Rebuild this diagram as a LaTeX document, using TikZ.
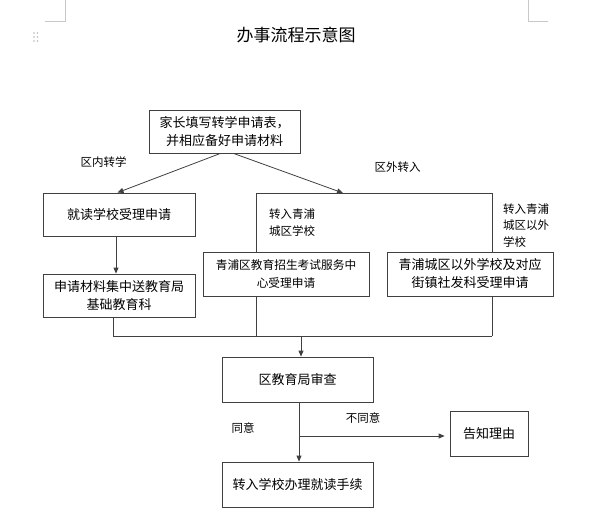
\documentclass[tikz,border=0pt]{standalone}
\usepackage{fontspec}
\setmainfont{Noto Sans CJK SC}
\usetikzlibrary{arrows.meta,calc,backgrounds}
\definecolor{ink}{RGB}{64,64,64}
\definecolor{pagemark}{RGB}{200,200,200}
\tikzset{
  box/.style={draw=ink,fill=white,line width=0.8pt,inner sep=0pt,align=center,font=\fontsize{13}{18}\selectfont},
  small/.style={font=\fontsize{11.7}{18}\selectfont},
  lab/.style={inner sep=0pt,align=left,font=\fontsize{11.5}{17}\selectfont},
  ln/.style={draw=ink,line width=0.8pt},
  arr/.style={-{Triangle[length=6pt,width=5pt]},draw=ink,line width=0.8pt}
}
\begin{document}
\begin{tikzpicture}[x=1pt,y=-1pt]
  \useasboundingbox (0,0) rectangle (601,530);
  % page marks
  \draw[pagemark] (65,0) -- (65,21) -- (45,21);
  \draw[pagemark] (528,0) -- (528,21) -- (548,21);
  \foreach \i in {0,1,2}{
    \foreach \j in {0,1}{
      \fill[gray!55] (34+3.5*\j,33+4*\i) circle (0.9);
    }
  }
  \node[font=\fontsize{17}{20}\selectfont] (title) at (296,34.5) {办事流程示意图};

  \node[box,minimum width=151pt,minimum height=43pt] (apply) at (224.5,131.5) {家长填写转学申请表，\\并相应备好申请材料};
  \node[box,minimum width=152pt,minimum height=43pt] (school) at (119,214.5) {就读学校受理申请};
  \node[box,minimum width=152pt,minimum height=43pt] (bureau) at (119,295.5) {申请材料集中送教育局\\基础教育科};
  \node[box,small,minimum width=166pt,minimum height=44pt] (exam) at (286,274) {青浦区教育招生考试服务中\\心受理申请};
  \node[box,minimum width=166pt,minimum height=44pt] (town) at (470,274) {青浦城区以外学校及对应\\街镇社发科受理申请};
  \node[box,minimum width=151pt,minimum height=45pt] (review) at (297.5,379.5) {区教育局审查};
  \node[box,minimum width=151pt,minimum height=45pt] (enrol) at (297.5,484.5) {转入学校办理就读手续};
  \node[box,minimum width=78pt,minimum height=45pt] (reason) at (489,433.5) {告知理由};

  \coordinate (ftl) at (256,193);
  \coordinate (ftr) at (492,193);
  \coordinate (fbl) at (256,336);
  \coordinate (fbr) at (492,336);
  \coordinate (outin) at (343,193);
  \coordinate (merge) at (301,336);
  \coordinate (split) at (299,436);

  \begin{pgfonlayer}{background}
    \draw[ln] (fbl) |- (ftr) -- (fbr);
  \end{pgfonlayer}
  \draw[ln] ([xshift=-6pt]bureau.south) |- (fbr);

  \draw[arr] ([xshift=-4pt]apply.south) -- ([xshift=-1.5pt]school.north);
  \draw[arr] ([xshift=9pt]apply.south) -- (outin);
  \draw[arr] ([xshift=-3pt]school.south) -- ([xshift=-3pt]bureau.north);
  \draw[arr] (merge) -- (merge |- review.north);
  \draw[arr] ([xshift=1.5pt]review.south) -- ([xshift=1.5pt]enrol.north);
  \draw[arr,shorten >=5pt] (split) -- (split -| reason.west);

  \node[lab] (inner) at (103.5,162) {区内转学};
  \node[lab] (outer) at (397.5,167) {区外转入};
  \node[lab,anchor=west] (city) at (269,223) {转入青浦\\城区学校};
  \node[lab,anchor=west,font=\fontsize{11.5}{16.5}\selectfont] (rural) at (503,225.5) {转入青浦\\城区以外\\学校};
  \node[lab] (agree) at (243,428) {同意};
  \node[lab] (refuse) at (363,418) {不同意};
\end{tikzpicture}
\end{document}
